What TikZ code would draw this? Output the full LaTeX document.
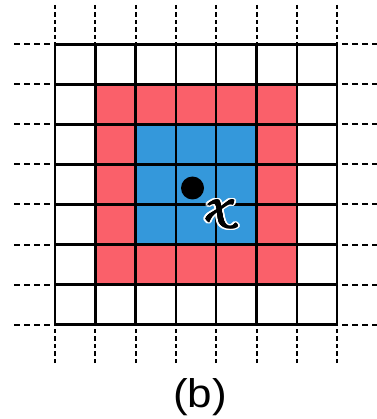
\documentclass[tikz,border=0pt]{standalone}
\usepackage{graphicx}
\usepackage{fontspec}
\newfontfamily\labelfont{Liberation Sans}
\definecolor{cellred}{RGB}{250,96,106}
\definecolor{cellblue}{RGB}{52,152,219}
\newcommand\myscriptx{{\usefont{T1}{pzc}{m}{it}x}}
\newcommand\xbox{\resizebox*{26pt}{31pt}{\myscriptx}}
\begin{document}
\begin{tikzpicture}[x=1pt,y=-1pt,
  gridline/.style={line width=2.4pt,black,line cap=rect},
  dashext/.style={line width=2pt,black,dash pattern=on 6pt off 4pt},
  dashvert/.style={line width=2pt,black,dash pattern=on 4.5pt off 3pt},
  xglyph/.style={inner sep=0pt}]
\useasboundingbox (0,0) rectangle (376,419);
\def\xa{55}\def\dx{40.3}\def\ya{44.5}\def\dy{40}
\fill[cellred] (\xa+\dx,\ya+\dy) rectangle (\xa+6*\dx,\ya+6*\dy);
\fill[cellblue] (\xa+2*\dx,\ya+2*\dy) rectangle (\xa+5*\dx,\ya+5*\dy);
\foreach \i in {0,...,7} {
  \draw[gridline] (\xa+\i*\dx,\ya) -- (\xa+\i*\dx,\ya+7*\dy);
  \draw[gridline] (\xa,\ya+\i*\dy) -- (\xa+7*\dx,\ya+\i*\dy);
  \draw[dashext] (14,\ya+\i*\dy) -- (\xa,\ya+\i*\dy);
  \draw[dashext] (\xa+7*\dx+41,\ya+\i*\dy) -- (\xa+7*\dx,\ya+\i*\dy);
  \draw[dashvert] (\xa+\i*\dx,5) -- (\xa+\i*\dx,\ya);
  \draw[dashvert] (\xa+\i*\dx,363) -- (\xa+\i*\dx,\ya+7*\dy);
}
\fill[black] (192.5,188) circle (11.5);
\foreach \a in {0,22.5,...,340}
  \node[xglyph,text=white,shift={(\a:2.2)}] (xo\a) at (215,215) {\xbox};
\foreach \a in {0,45,...,315}
  \node[xglyph,text=black,shift={(\a:0.6)}] (xb\a) at (215,215) {\xbox};
\node[xglyph,text=black] (xlabel) at (215,215) {\xbox};
\node[font=\labelfont\fontsize{40}{40}\selectfont,inner sep=0pt] (caption) at (200,397.5) {\scalebox{1.1}[1]{(b)}};
\end{tikzpicture}
\end{document}
